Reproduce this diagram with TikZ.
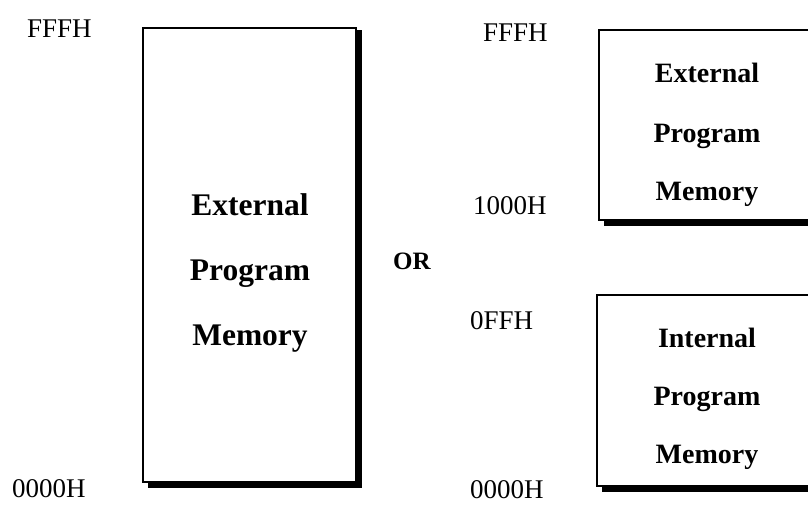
\documentclass[tikz,border=0pt]{standalone}
\usepackage{fontspec}
\setmainfont{Liberation Serif}
\begin{document}
\begin{tikzpicture}[x=1pt,y=-1pt]
\tikzset{
  membox/.style={draw, line width=1.6pt, inner sep=0pt, outer sep=0pt, anchor=north west},
  shadowline/.style={line width=5pt},
  addr/.style={anchor=base west, inner sep=0pt, font=\fontsize{27}{27}\selectfont},
  bigtxt/.style={anchor=base, inner sep=0pt, font=\fontsize{31.5}{31.5}\selectfont\bfseries},
  smalltxt/.style={anchor=base, inner sep=0pt, font=\fontsize{28}{28}\selectfont\bfseries}
}
\useasboundingbox (0,0) rectangle (808,504);
\clip (0,0) rectangle (808,504);
% left: one external block
\node[membox, minimum width=213pt, minimum height=454pt] (extall) at (143,28) {};
\draw[shadowline] ([xshift=3pt,yshift=-2pt]extall.north east) -- ([xshift=3pt,yshift=-3pt]extall.south east) -- ([xshift=5pt,yshift=-3pt]extall.south west);
\node[bigtxt] (extallA) at (250,215) {External};
\node[bigtxt] (extallB) at (250,280) {Program};
\node[bigtxt] (extallC) at (250,345) {Memory};
\node[addr] (topL) at (27,37) {FFFH};
\node[addr] (botL) at (12,497) {0000H};
% OR
\node[anchor=base west, inner sep=0pt, font=\fontsize{25}{25}\selectfont\bfseries] (orword) at (393,269) {OR};
% right: external above internal
\node[membox, minimum width=216pt, minimum height=190pt] (extup) at (599,30) {};
\draw[shadowline] ([xshift=3pt,yshift=-2pt]extup.north east) -- ([xshift=3pt,yshift=-3.5pt]extup.south east) -- ([xshift=5pt,yshift=-3.5pt]extup.south west);
\node[smalltxt] (extupA) at (707,82) {External};
\node[smalltxt] (extupB) at (707,142) {Program};
\node[smalltxt] (extupC) at (707,200) {Memory};
\node[membox, minimum width=220pt, minimum height=191pt] (intdn) at (597,295) {};
\draw[shadowline] ([xshift=3pt,yshift=-2pt]intdn.north east) -- ([xshift=3pt,yshift=-3pt]intdn.south east) -- ([xshift=5pt,yshift=-3pt]intdn.south west);
\node[smalltxt] (intdnA) at (707,347) {Internal};
\node[smalltxt] (intdnB) at (707,405) {Program};
\node[smalltxt] (intdnC) at (707,463) {Memory};
\node[addr] (topR) at (483,41) {FFFH};
\node[addr] (midR) at (473,214) {1000H};
\node[addr] (lowR) at (470,329) {0FFH};
\node[addr] (botR) at (470,498) {0000H};
\end{tikzpicture}
\end{document}
